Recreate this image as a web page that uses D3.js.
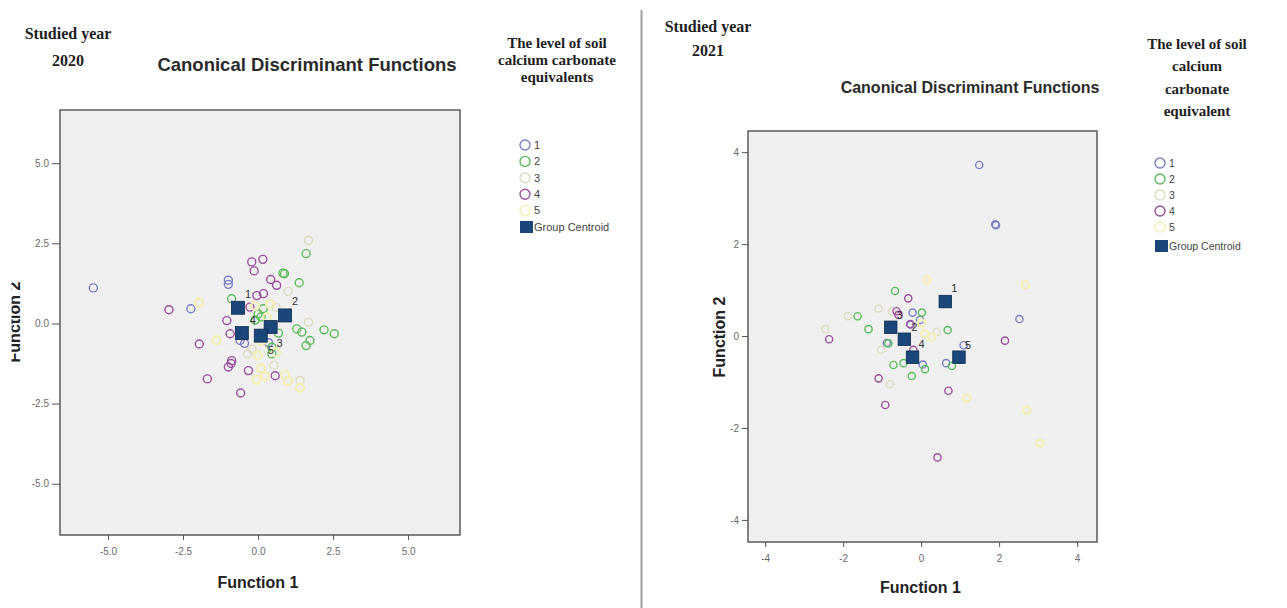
<!DOCTYPE html>
<html>
<head>
<meta charset="utf-8">
<script src="https://cdn.jsdelivr.net/npm/d3@7"></script>
<style>
  body { margin: 0; background: #fff; }
  svg { display: block; }
  .tick text { font-family: Arial, "Liberation Sans", sans-serif; fill: #6a6a6a; }
  .tick line { stroke: #555; }
</style>
</head>
<body>
<svg id="viz" width="1287" height="608"></svg>
<script>
// group codes (soil calcium carbonate equivalent level)
var groups = ["1", "2", "3", "4", "5"];

// 2020 discriminant scores [function 1, function 2] per group
var scores2020 = {
  "1": [[-5.49, 1.11], [-2.24, 0.46], [-0.99, 1.22], [-0.99, 1.35], [-0.6, -0.53], [-0.45, -0.62], [0.35, -0.6]],
  "2": [[1.6, 2.18], [0.83, 1.57], [0.88, 1.55], [1.37, 1.27], [1.29, -0.17], [1.46, -0.27], [1.73, -0.53],
        [1.6, -0.69], [2.2, -0.2], [2.54, -0.32], [-0.88, 0.77], [0.0, 0.3], [0.17, 0.46], [-0.1, 0.1],
        [0.46, -0.74], [0.46, -0.95], [0.68, -0.3], [0.1, 0.2]],
  "3": [[1.68, 2.59], [1.68, 0.04], [1.4, -1.78], [0.53, -1.3], [-0.35, -0.95], [1.0, 1.0], [0.6, 0.5], [-0.2, -0.8]],
  "4": [[-2.97, 0.43], [-1.96, -0.64], [-1.69, -1.73], [-0.58, -2.17], [-0.32, -1.47], [-0.99, -1.36],
        [-0.88, -1.16], [0.57, -1.63], [-0.21, 1.92], [0.16, 2.0], [-0.13, 1.64], [0.42, 1.37], [0.62, 1.19],
        [-0.04, 0.87], [0.18, 0.93], [-0.27, 0.51], [-1.04, 0.09], [-0.93, -0.32], [-0.9, -1.25]],
  "5": [[-1.96, 0.65], [-1.38, -0.53], [0.0, -1.0], [0.1, -1.4], [-0.05, -1.75], [0.25, -1.65], [0.4, 0.6],
        [-0.1, 0.55], [0.9, -1.6], [1.0, -1.8], [0.1, -0.55], [1.4, -2.0], [0.3, 0.2], [0.6, -0.9]]
};
var centroids2020 = [[-0.67, 0.49], [0.9, 0.25], [0.42, -0.11], [-0.54, -0.30], [0.09, -0.38]];

// 2021 discriminant scores
var scores2021 = {
  "1": [[1.49, 3.72], [1.92, 2.41], [1.9, 2.43], [2.52, 0.37], [-0.22, 0.51], [-0.03, 0.35], [-0.88, -0.15],
        [0.04, -0.62], [0.64, -0.59], [1.09, -0.2], [-0.27, 0.25]],
  "2": [[-0.67, 0.98], [-1.63, 0.43], [-1.35, 0.15], [0.02, 0.51], [0.68, 0.13], [-0.71, -0.63], [-0.45, -0.59],
        [-0.24, -0.87], [0.1, -0.72], [0.79, -0.65], [-0.84, -0.16]],
  "3": [[-1.09, 0.6], [-1.88, 0.43], [-2.46, 0.15], [-0.8, -1.05], [0.4, 0.09], [-1.03, -0.3], [-0.75, 0.53]],
  "4": [[-2.36, -0.07], [-0.33, 0.82], [-0.58, 0.46], [-0.28, 0.26], [-1.09, -0.92], [-0.92, -1.5], [0.7, -1.19],
        [2.15, -0.1], [0.42, -2.64], [-0.63, 0.54], [-0.2, -0.3]],
  "5": [[0.15, 1.22], [2.67, 1.11], [1.17, -1.35], [2.71, -1.61], [3.05, -2.33], [0.27, -0.02], [0.0, 0.28], [0.09, 0.05]]
};
var centroids2021 = [[0.62, 0.75], [-0.43, -0.07], [-0.78, 0.19], [-0.22, -0.46], [0.97, -0.46]];

var ticks2020 = [-5, -2.5, 0, 2.5, 5];
var ticks2021 = [-4, -2, 0, 2, 4];

////////////
// STYLES
////////////
var groupColors = { "1": "#7a80c6", "2": "#5cbb5c", "3": "#dedbc2", "4": "#9b4f9f", "5": "#f3efb4" };
var centroidColor = "#1a4679";
var serif = "'Liberation Serif', 'Times New Roman', serif";
var sans = "Arial, 'Liberation Sans', sans-serif";

var svg = d3.select("#viz");

// divider between the two figures
svg.append("line")
  .attr("x1", 641.5).attr("x2", 641.5).attr("y1", 10).attr("y2", 608)
  .style("stroke", "#a0a0a0").style("stroke-width", 2);

function panel(opt) {
  var x = d3.scaleLinear().domain(opt.xDomain).range([opt.left, opt.right]);
  var y = d3.scaleLinear().domain(opt.yDomain).range([opt.bottom, opt.top]);

  svg.append("rect")
    .attr("x", opt.left).attr("y", opt.top)
    .attr("width", opt.right - opt.left).attr("height", opt.bottom - opt.top)
    .style("fill", "#f0f0f0");

  var xAxis = svg.append("g")
    .attr("transform", "translate(0," + opt.bottom + ")")
    .call(d3.axisBottom(x).tickValues(opt.ticks).tickFormat(opt.fmt).tickSize(5).tickPadding(8));
  var yAxis = svg.append("g")
    .attr("transform", "translate(" + opt.left + ",0)")
    .call(d3.axisLeft(y).tickValues(opt.ticks).tickFormat(opt.fmt).tickSize(opt.yTick).tickPadding(3));
  [xAxis, yAxis].forEach(function(a) {
    a.select(".domain").remove();
    a.selectAll("text").style("font-size", "10px");
  });

  // scatter of cases, one layer per group
  var dots = svg.append("g").style("fill", "none");
  groups.forEach(function(g) {
    dots.selectAll(null)
      .data(opt.scores[g])
      .enter()
      .append("circle")
      .attr("cx", function(d) { return x(d[0]); })
      .attr("cy", function(d) { return y(d[1]); })
      .attr("r", opt.r)
      .style("stroke", groupColors[g])
      .style("stroke-width", g === "5" ? 2.2 : 1.4);
  });

  // group centroids
  var cs = opt.sq;
  svg.append("g").selectAll("rect")
    .data(opt.centroids)
    .enter()
    .append("rect")
    .attr("x", function(d) { return x(d[0]) - cs / 2; })
    .attr("y", function(d) { return y(d[1]) - cs / 2; })
    .attr("width", cs).attr("height", cs)
    .style("fill", centroidColor)
    .style("stroke", "#0e2c50").style("stroke-width", 0.8);

  svg.append("g").selectAll("text")
    .data(opt.centroids)
    .enter()
    .append("text")
    .attr("x", function(d, i) { return x(d[0]) + opt.labelOff[i][0]; })
    .attr("y", function(d, i) { return y(d[1]) + opt.labelOff[i][1]; })
    .attr("dy", "0.35em")
    .attr("text-anchor", "middle")
    .style("font-family", sans).style("font-size", "11px").style("fill", "#333")
    .text(function(d, i) { return groups[i]; });

  // frame
  svg.append("rect")
    .attr("x", opt.left).attr("y", opt.top)
    .attr("width", opt.right - opt.left).attr("height", opt.bottom - opt.top)
    .style("fill", "none").style("stroke", "#5a5a5a").style("stroke-width", 1.5);

  svg.append("text")
    .attr("x", (opt.left + opt.right) / 2 + opt.xTitleShift).attr("y", opt.xTitleY)
    .attr("text-anchor", "middle")
    .style("font-family", sans).style("font-weight", "bold").style("font-size", "16px").style("fill", "#222")
    .text("Function 1");

  // the 2020 y title is cut at the left edge in the original
  var ytg = svg.append("g");
  if (opt.clipY) {
    svg.append("clipPath").attr("id", "yclip")
      .append("rect").attr("x", opt.clipY).attr("y", 0).attr("width", 60).attr("height", 608);
    ytg.attr("clip-path", "url(#yclip)");
  }
  ytg.append("text")
    .attr("transform", "translate(" + opt.yTitleX + "," + opt.yTitleY + ") rotate(-90)")
    .attr("text-anchor", "middle")
    .style("font-family", sans).style("font-weight", "bold").style("font-size", "16px").style("fill", "#222")
    .text("Function 2");

  svg.append("text")
    .attr("x", opt.titleX).attr("y", opt.titleY)
    .attr("text-anchor", "middle")
    .style("font-family", sans).style("font-weight", "bold").style("font-size", opt.titleSize).style("fill", "#2a2a2a")
    .text("Canonical Discriminant Functions");

  // studied year block
  opt.year.forEach(function(t, i) {
    svg.append("text")
      .attr("x", opt.yearX).attr("y", opt.yearY[i])
      .attr("text-anchor", "middle")
      .style("font-family", serif).style("font-weight", "bold").style("font-size", "16px").style("fill", "#1e1e1e")
      .text(t);
  });

  // legend title
  opt.legendTitle.forEach(function(t, i) {
    svg.append("text")
      .attr("x", opt.legendTitleX).attr("y", opt.legendTitleY[i])
      .attr("text-anchor", "middle")
      .style("font-family", serif).style("font-weight", "bold").style("font-size", opt.legendTitleSize)
      .style("fill", "#1e1e1e")
      .text(t);
  });

  // legend entries
  var lg = svg.append("g").attr("transform", "translate(" + opt.legendX + "," + opt.legendY + ")");
  var rows = groups.concat(["Group Centroid"]);
  rows.forEach(function(t, i) {
    var ry = i * opt.legendStep + (i === 5 ? opt.legendGap : 0);
    if (i < 5) {
      lg.append("circle").attr("cx", 0).attr("cy", ry).attr("r", 5)
        .style("fill", "none").style("stroke", groupColors[t]).style("stroke-width", 1.4);
    } else {
      lg.append("rect").attr("x", -5).attr("y", ry - 6).attr("width", 13).attr("height", 12)
        .style("fill", centroidColor);
    }
    lg.append("text").attr("x", 9).attr("y", ry).attr("dy", "0.35em")
      .style("font-family", sans).style("font-size", opt.legendFont).style("fill", "#444")
      .text(t);
  });
}

panel({
  left: 60, right: 460, top: 110, bottom: 535,
  xDomain: [-6.6, 6.73], yDomain: [-6.6, 6.66],
  ticks: ticks2020, fmt: function(d) { return d.toFixed(1); }, yTick: 8,
  scores: scores2020, centroids: centroids2020, r: 4, sq: 13,
  labelOff: [[10, -14], [10, -14], [9, 16], [11, -13], [10, 15]],
  xTitleShift: -2, xTitleY: 588, yTitleX: 20, yTitleY: 322, clipY: 11.5,
  titleX: 307, titleY: 71, titleSize: "18.5px",
  year: ["Studied year", "2020"], yearX: 68, yearY: [39, 66],
  legendTitle: ["The level of soil", "calcium carbonate", "equivalents"],
  legendTitleX: 557, legendTitleY: [48, 65, 82], legendTitleSize: "15px",
  legendX: 525, legendY: 145, legendStep: 16.4, legendGap: 0, legendFont: "11px"
});

panel({
  left: 748, right: 1097, top: 131, bottom: 542,
  xDomain: [-4.44, 4.51], yDomain: [-4.48, 4.46],
  ticks: ticks2021, fmt: function(d) { return String(d); }, yTick: 6,
  scores: scores2021, centroids: centroids2021, r: 3.6, sq: 12.5,
  labelOff: [[9, -13], [10, -12], [9, -12], [9, -13], [9, -12]],
  xTitleShift: -2, xTitleY: 593, yTitleX: 725, yTitleY: 337, clipY: 0,
  titleX: 970, titleY: 93, titleSize: "16px",
  year: ["Studied year", "2021"], yearX: 708, yearY: [32, 56],
  legendTitle: ["The level of soil", "calcium", "carbonate", "equivalent"],
  legendTitleX: 1197, legendTitleY: [49, 71, 94, 116], legendTitleSize: "15px",
  legendX: 1160, legendY: 163, legendStep: 16, legendGap: 3, legendFont: "10.5px"
});
</script>
</body>
</html>
